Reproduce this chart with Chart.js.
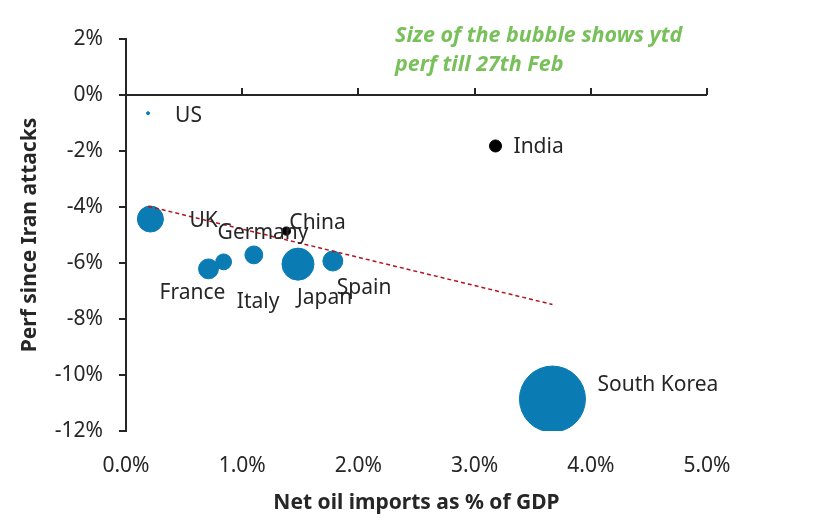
<!DOCTYPE html>
<html>
<head>
<meta charset="utf-8">
<script src="https://cdn.jsdelivr.net/npm/chart.js@4.4.1/dist/chart.umd.min.js"></script>
<style>
html, body { margin: 0; padding: 0; background: #fff; }
#wrap { width: 826px; height: 529px; }
</style>
</head>
<body>
<div id="wrap"><canvas id="bubbleChart" width="826" height="529"></canvas></div>
<script>
// data
var countries = ["US", "UK", "France", "Germany", "Italy", "Japan", "Spain", "China", "India", "South Korea"];
var oilImports = [0.19, 0.21, 0.71, 0.84, 1.10, 1.48, 1.78, 1.38, 3.18, 3.67];          // % of GDP
var perfSinceAttacks = [-0.65, -4.43, -6.21, -5.96, -5.71, -6.04, -5.93, -4.86, -1.82, -10.86]; // %
var ytdPerf = [0.1, 7.0, 4.1, 2.6, 3.3, 10.6, 4.1, -0.7, -1.5, 45.0];                    // % ytd till 27 Feb
var xTicks = [0, 1, 2, 3, 4, 5];
var yTicks = [2, 0, -2, -4, -6, -8, -10, -12];
var noteLines = ["Size of the bubble shows ytd", "perf till 27th Feb"];

var BLUE = '#0b7bb3';
var INK = '#262626';
var FONT = "'Noto Sans', sans-serif";

// label nudges in px (label left edge / middle, relative to bubble centre)
var labelNudge = {
    "US": [27, 3], "UK": [39, 2], "France": [-49, 24], "Germany": [-6, -29],
    "Italy": [-17, 47], "Japan": [-1, 34], "Spain": [4, 27], "China": [3, -8],
    "India": [18, 1], "South Korea": [45, -14]
};

function bubbleRadius(v) {
    return Math.sqrt(Math.abs(v)) * 4.92;
}

var points = countries.map(function(c, i) {
    return {x: oilImports[i], y: perfSinceAttacks[i], r: bubbleRadius(ytdPerf[i])};
});

// least squares trend over all countries (like the excel trendline)
function trend() {
    var n = oilImports.length, mx = 0, my = 0, sxy = 0, sxx = 0;
    for (var i = 0; i < n; i++) { mx += oilImports[i] / n; my += perfSinceAttacks[i] / n; }
    for (var i = 0; i < n; i++) {
        sxy += (oilImports[i] - mx) * (perfSinceAttacks[i] - my);
        sxx += (oilImports[i] - mx) * (oilImports[i] - mx);
    }
    var b = sxy / sxx, a = my - b * mx;
    var x0 = Math.min.apply(null, oilImports), x1 = Math.max.apply(null, oilImports);
    return [{x: x0, y: a + b * x0}, {x: x1, y: a + b * x1}];
}

var zeroAxis = {
    id: 'zeroAxis',
    beforeDatasetsDraw: function(chart) {
        var ctx = chart.ctx, xs = chart.scales.x, ys = chart.scales.y;
        var y0 = Math.round(ys.getPixelForValue(0));
        ctx.save();
        ctx.strokeStyle = INK;
        ctx.lineWidth = 2;
        ctx.beginPath();
        ctx.moveTo(xs.left, y0);
        ctx.lineTo(xs.right, y0);
        xTicks.forEach(function(t) {
            if (t === 0) return;
            var px = Math.round(xs.getPixelForValue(t));
            ctx.moveTo(px, y0);
            ctx.lineTo(px, y0 - 7);
        });
        ctx.stroke();
        ctx.restore();
    }
};

var pointLabels = {
    id: 'pointLabels',
    afterDatasetsDraw: function(chart) {
        var ctx = chart.ctx;
        var meta = chart.getDatasetMeta(1);
        ctx.save();
        ctx.font = "21px " + FONT;
        ctx.fillStyle = INK;
        ctx.textAlign = 'left';
        ctx.textBaseline = 'middle';
        meta.data.forEach(function(el, i) {
            var n = labelNudge[countries[i]] || [10, 0];
            ctx.fillText(countries[i], el.x + n[0], el.y + n[1]);
        });
        // note in the corner
        ctx.font = "italic bold 21.5px " + FONT;
        ctx.fillStyle = '#78c05a';
        ctx.textBaseline = 'alphabetic';
        noteLines.forEach(function(t, k) {
            ctx.fillText(t, 395, 42 + k * 29);
        });
        ctx.restore();
    }
};

var ctx = document.getElementById('bubbleChart').getContext('2d');
var chart = new Chart(ctx, {
    type: 'bubble',
    data: {
        datasets: [{
            type: 'line',
            label: 'Trend',
            data: trend(),
            borderColor: '#b3141e',
            borderWidth: 1.5,
            borderDash: [4, 3],
            pointRadius: 0,
            fill: false,
            order: 0
        }, {
            label: 'Countries',
            data: points,
            backgroundColor: function(c) { return ytdPerf[c.dataIndex] < 0 ? '#000' : BLUE; },
            borderColor: function(c) { return ytdPerf[c.dataIndex] < 0 ? '#000' : BLUE; },
            borderWidth: 1,
            order: 1
        }]
    },
    options: {
        responsive: false,
        animation: false,
        devicePixelRatio: 1,
        layout: {padding: {top: 39, right: 119, bottom: 13, left: 12}},
        plugins: {legend: {display: false}, tooltip: {enabled: false}},
        scales: {
            x: {
                type: 'linear', min: 0, max: 5,
                afterBuildTicks: function(s) { s.ticks = xTicks.map(function(v) { return {value: v}; }); },
                afterFit: function(s) { s.height = 85; },
                border: {display: false},
                grid: {display: false, drawTicks: false},
                ticks: {
                    color: INK, padding: 22, font: {family: FONT, size: 21},
                    callback: function(v) { return v.toFixed(1) + '%'; }
                },
                title: {
                    display: true, text: 'Net oil imports as % of GDP', color: INK,
                    font: {family: FONT, size: 21, weight: 'bold'}, padding: {top: 0, bottom: 0}
                }
            },
            y: {
                type: 'linear', min: -12, max: 2,
                afterBuildTicks: function(s) { s.ticks = yTicks.map(function(v) { return {value: v}; }); },
                afterFit: function(s) { s.width = 114; },
                border: {display: true, color: INK, width: 2},
                grid: {drawOnChartArea: false, color: INK, lineWidth: 2, tickLength: 7},
                ticks: {
                    color: INK, padding: 16, font: {family: FONT, size: 21},
                    callback: function(v) { return v + '%'; }
                },
                title: {
                    display: true, text: 'Perf since Iran attacks', color: INK,
                    font: {family: FONT, size: 21, weight: 'bold'}, padding: {top: 5, bottom: 0}
                }
            }
        }
    },
    plugins: [zeroAxis, pointLabels]
});
</script>
</body>
</html>
